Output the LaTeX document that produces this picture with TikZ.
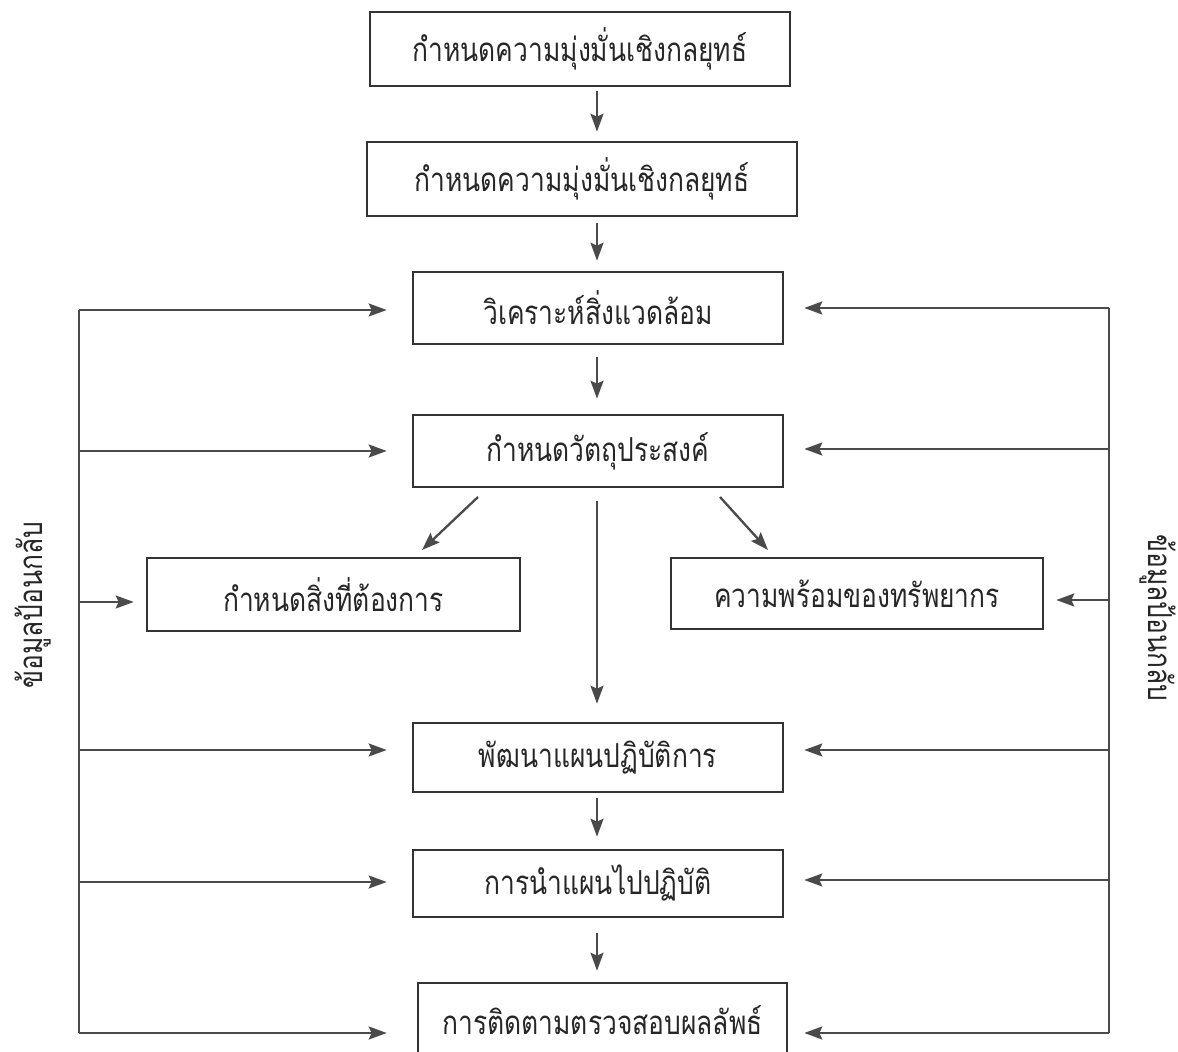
\documentclass[tikz,border=0pt]{standalone}
\usepackage{fontspec}
\newfontfamily\thaifont[Script=Thai,FakeStretch=0.8]{Loma}
\usetikzlibrary{arrows.meta}
\definecolor{boxline}{HTML}{333333}
\definecolor{arrline}{HTML}{4A4A4A}
\begin{document}
\begin{tikzpicture}[x=0.5pt,y=-0.5pt,
  box/.style={draw=boxline, line width=1.3pt, inner sep=0pt,
    font=\thaifont\fontsize{16.5}{18}\selectfont, text=black!85},
  lbl/.style={font=\thaifont\fontsize{16.5}{18}\selectfont, text=black!85, inner sep=0pt},
  conn/.style={draw=arrline, line width=1.15pt},
  arr/.style={conn, -{Stealth[length=9pt,width=6.5pt,inset=1.5pt]}, fill=arrline}]
\useasboundingbox (0,0) rectangle (1178,1052);

% boxes
\node[box, minimum width=210pt, minimum height=37pt] (b1) at (580,49) {กำหนดความมุ่งมั่นเชิงกลยุทธ์};
\node[box, minimum width=215pt, minimum height=37pt] (b2) at (582,179) {กำหนดความมุ่งมั่นเชิงกลยุทธ์};
\node[box, minimum width=185pt, minimum height=36pt] (b3) at (598,308) {วิเคราะห์สิ่งแวดล้อม};
\node[box, minimum width=185pt, minimum height=36pt] (b4) at (598,451) {กำหนดวัตถุประสงค์};
\node[box, minimum width=186.5pt, minimum height=36.5pt] (b5) at (333.5,594.5) {กำหนดสิ่งที่ต้องการ};
\node[box, minimum width=186pt, minimum height=35.5pt] (b6) at (857,593.5) {ความพร้อมของทรัพยากร};
\node[box, minimum width=185pt, minimum height=34.5pt] (b7) at (598,757.5) {พัฒนาแผนปฏิบัติการ};
\node[box, minimum width=185pt, minimum height=33.5pt] (b8) at (598,883.5) {การนำแผนไปปฏิบัติ};
\node[box, minimum width=184.5pt, minimum height=37pt] (b9) at (602.5,1020) {การติดตามตรวจสอบผลลัพธ์};

% side labels
\node[lbl, rotate=90] (fbL) at (33,605) {ข้อมูลป้อนกลับ};
\node[lbl, rotate=-90] (fbR) at (1158,618) {ข้อมูลป้อนกลับ};

% main vertical flow
\coordinate (cx) at (597,0);
\draw[arr, shorten <=2pt, shorten >=4.5pt] (b1.south -| cx) -- (b2.north -| cx);
\draw[arr, shorten <=3pt, shorten >=5pt] (b2.south -| cx) -- (b3.north -| cx);
\draw[arr, shorten <=6pt, shorten >=7.5pt] (b3.south -| cx) -- (b4.north -| cx);
\draw[arr, shorten <=6.5pt, shorten >=9pt] (b4.south -| cx) -- (b7.north -| cx);
\draw[arr, shorten <=2.5pt, shorten >=6pt] (b7.south -| cx) -- (b8.north -| cx);
\draw[arr, shorten <=7.5pt, shorten >=5.5pt] (b8.south -| cx) -- (b9.north -| cx);

% diagonal arrows
\coordinate (d1s) at (478,497);
\coordinate (d1e) at (422,550);
\coordinate (d2s) at (720,497);
\coordinate (d2e) at (768,550);
\draw[arr] (d1s) -- (d1e);
\draw[arr] (d2s) -- (d2e);

% left feedback line
\coordinate (Ltop) at (79,310);
\coordinate (Lbot) at (79,1033);
\draw[conn] (Ltop) -- (Lbot);
\coordinate (L3) at (79,310);
\coordinate (L4) at (79,451);
\coordinate (L5) at (79,602);
\coordinate (L7) at (79,750);
\coordinate (L8) at (79,882);
\coordinate (L9) at (79,1033);
\draw[arr, shorten >=12.5pt] (L3) -- (L3 -| b3.west);
\draw[arr, shorten >=12.5pt] (L4) -- (L4 -| b4.west);
\draw[arr, shorten >=6pt] (L5) -- (L5 -| b5.west);
\draw[arr, shorten >=12.5pt] (L7) -- (L7 -| b7.west);
\draw[arr, shorten >=12.5pt] (L8) -- (L8 -| b8.west);
\draw[arr, shorten >=15pt] (L9) -- (L9 -| b9.west);

% right feedback line
\coordinate (Rtop) at (1109,308);
\coordinate (Rbot) at (1109,1033);
\draw[conn] (Rtop) -- (Rbot);
\coordinate (R3) at (1109,308);
\coordinate (R4) at (1109,449);
\coordinate (R6) at (1109,600);
\coordinate (R7) at (1109,750);
\coordinate (R8) at (1109,880);
\coordinate (R9) at (1109,1033);
\draw[arr, shorten >=10pt] (R3) -- (R3 -| b3.east);
\draw[arr, shorten >=10pt] (R4) -- (R4 -| b4.east);
\draw[arr, shorten >=6pt] (R6) -- (R6 -| b6.east);
\draw[arr, shorten >=10pt] (R7) -- (R7 -| b7.east);
\draw[arr, shorten >=10pt] (R8) -- (R8 -| b8.east);
\draw[arr, shorten >=8pt] (R9) -- (R9 -| b9.east);
\end{tikzpicture}
\end{document}
